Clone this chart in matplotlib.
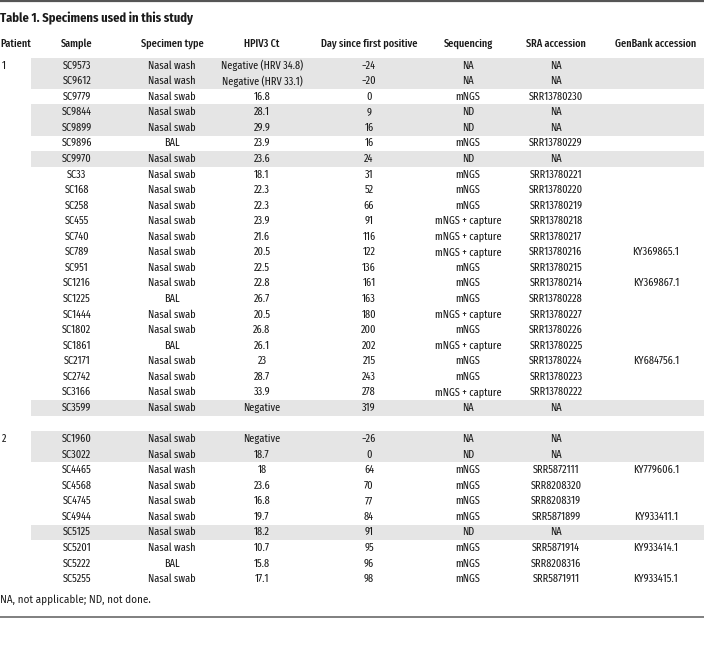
import matplotlib
matplotlib.use("Agg")
import matplotlib.pyplot as plt

COND = ['Fira Sans Extra Condensed', 'DejaVu Sans']

title = "Table 1. Specimens used in this study"
headers = ["Patient", "Sample", "Specimen type", "HPIV3 Ct", "Day since first positive",
           "Sequencing", "SRA accession", "GenBank accession"]
footnote = "NA, not applicable; ND, not done."

# Patient 1
p1_samples = ["SC9573", "SC9612", "SC9779", "SC9844", "SC9899", "SC9896", "SC9970", "SC33",
              "SC168", "SC258", "SC455", "SC740", "SC789", "SC951", "SC1216", "SC1225",
              "SC1444", "SC1802", "SC1861", "SC2171", "SC2742", "SC3166", "SC3599"]
p1_types = ["Nasal wash", "Nasal wash", "Nasal swab", "Nasal swab", "Nasal swab", "BAL",
            "Nasal swab", "Nasal swab", "Nasal swab", "Nasal swab", "Nasal swab", "Nasal swab",
            "Nasal swab", "Nasal swab", "Nasal swab", "BAL", "Nasal swab", "Nasal swab", "BAL",
            "Nasal swab", "Nasal swab", "Nasal swab", "Nasal swab"]
p1_ct = ["Negative (HRV 34.8)", "Negative (HRV 33.1)", "16.8", "28.1", "29.9", "23.9", "23.6",
         "18.1", "22.3", "22.3", "23.9", "21.6", "20.5", "22.5", "22.8", "26.7", "20.5", "26.8",
         "26.1", "23", "28.7", "33.9", "Negative"]
p1_days = ["\u221224", "\u221220", "0", "9", "16", "16", "24", "31", "52", "66", "91", "116",
           "122", "136", "161", "163", "180", "200", "202", "215", "243", "278", "319"]
p1_seq = ["NA", "NA", "mNGS", "ND", "ND", "mNGS", "ND", "mNGS", "mNGS", "mNGS",
          "mNGS + capture", "mNGS + capture", "mNGS + capture", "mNGS", "mNGS", "mNGS",
          "mNGS + capture", "mNGS", "mNGS + capture", "mNGS", "mNGS", "mNGS + capture", "NA"]
p1_sra = ["NA", "NA", "SRR13780230", "NA", "NA", "SRR13780229", "NA", "SRR13780221",
          "SRR13780220", "SRR13780219", "SRR13780218", "SRR13780217", "SRR13780216",
          "SRR13780215", "SRR13780214", "SRR13780228", "SRR13780227", "SRR13780226",
          "SRR13780225", "SRR13780224", "SRR13780223", "SRR13780222", "NA"]
p1_genbank = ["", "", "", "", "", "", "", "", "", "", "", "", "KY369865.1", "", "KY369867.1",
              "", "", "", "", "KY684756.1", "", "", ""]

# Patient 2
p2_samples = ["SC1960", "SC3022", "SC4465", "SC4568", "SC4745", "SC4944", "SC5125", "SC5201",
              "SC5222", "SC5255"]
p2_types = ["Nasal swab", "Nasal swab", "Nasal wash", "Nasal swab", "Nasal swab", "Nasal swab",
            "Nasal swab", "Nasal wash", "BAL", "Nasal swab"]
p2_ct = ["Negative", "18.7", "18", "23.6", "16.8", "19.7", "18.2", "10.7", "15.8", "17.1"]
p2_days = ["\u221226", "0", "64", "70", "77", "84", "91", "95", "96", "98"]
p2_seq = ["NA", "ND", "mNGS", "mNGS", "mNGS", "mNGS", "ND", "mNGS", "mNGS", "mNGS"]
p2_sra = ["NA", "NA", "SRR5872111", "SRR8208320", "SRR8208319", "SRR5871899", "NA",
          "SRR5871914", "SRR8208316", "SRR5871911"]
p2_genbank = ["", "", "KY779606.1", "", "", "KY933411.1", "", "KY933414.1", "", "KY933415.1"]

W, H = 704, 663
fig = plt.figure(figsize=(W / 100, H / 100), dpi=100)
ax = fig.add_axes([0, 0, 1, 1])
ax.set_xlim(0, W)
ax.set_ylim(H, 0)
ax.axis('off')

col_x = [0, 77, 172, 262, 369, 468, 556, 656]
FS = 8.0
TXT = '#1a1a1a'

ax.plot([0, W], [1.2, 1.2], color='#555555', lw=1.6, solid_capstyle='butt')
ax.text(0, 18, title, fontsize=9.0, fontweight='bold',
        family=['Fira Sans Condensed', 'DejaVu Sans'],
        ha='left', va='center', color=TXT)
for i, h in enumerate(headers):
    ax.text(col_x[i], 43.5, h, fontsize=FS, family=COND, fontweight='medium',
            ha='left' if i == 0 else 'center', va='center', color=TXT)

y0 = 65.5
dy = 15.56
groups = [("1", p1_samples, p1_types, p1_ct, p1_days, p1_seq, p1_sra, p1_genbank),
          ("2", p2_samples, p2_types, p2_ct, p2_days, p2_seq, p2_sra, p2_genbank)]
slot = 0
for pid, samp, typ, ct, days, seq, sra, gb in groups:
    for j in range(len(samp)):
        y = y0 + slot * dy
        if seq[j] in ("NA", "ND"):
            ax.axhspan(y - dy / 2, y + dy / 2, xmin=31 / W, xmax=1, color='#e5e5e5', lw=0)
        if j == 0:
            ax.text(2, y, pid, fontsize=FS, family=COND, ha='left',
                    va='center', color=TXT)
        vals = [samp[j], typ[j], ct[j], days[j], seq[j], sra[j], gb[j]]
        for k, v in enumerate(vals):
            ax.text(col_x[k + 1], y, v, fontsize=FS, family=COND,
                    ha='center', va='center', color=TXT)
        slot += 1
    slot += 1

ax.text(0, 600, footnote, fontsize=7.2, family=['Fira Sans', 'DejaVu Sans'], ha='left',
        va='center', color=TXT)
ax.plot([0, W], [616.5, 616.5], color='#6a6a6a', lw=1.2, solid_capstyle='butt')

fig.savefig("out.png", dpi=100)
